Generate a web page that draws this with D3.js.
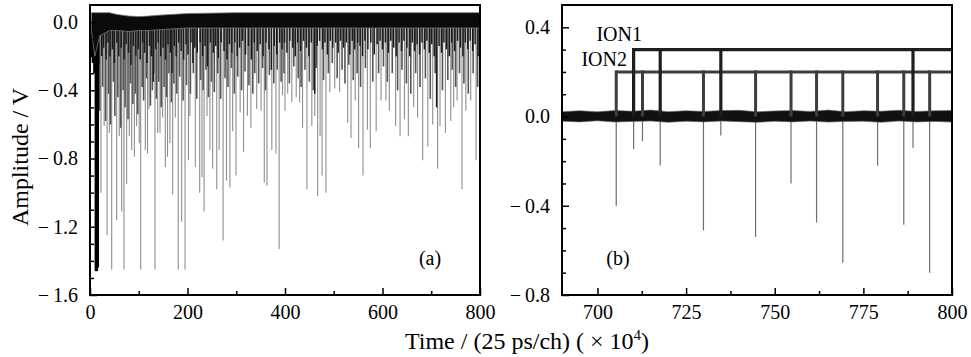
<!DOCTYPE html>
<html>
<head>
<meta charset="utf-8">
<script src="https://cdn.jsdelivr.net/npm/d3@7"></script>
<style>
  body { margin: 0; background: #fff; }
  svg { display: block; font-family: "Liberation Serif", "Times New Roman", serif; }
</style>
</head>
<body>
<svg id="chart" width="971" height="357"></svg>
<script>
// ---- panel (a) : full record ----
// deep spikes (light grey)
const deepT = [22.6, 29, 35, 39.7, 44.5, 54.7, 60, 65, 69.7, 75.2, 80.7, 85.5, 91, 95.5, 101, 104, 113.5, 118, 121,
  133.3, 138.8, 143.6, 149, 154.5, 159, 164, 169.6, 175, 181, 188, 195, 202, 205, 216, 225, 229.7, 234, 240, 246,
  251.6, 260, 265, 273, 280, 287, 292.6, 299.5, 308, 315, 323, 330, 342, 351, 357.5, 363, 373, 381.5, 388,
  395, 400, 405.5, 414, 423, 430, 436, 445, 455, 461, 467, 472, 476, 484, 492, 502, 512, 528.6, 535.4, 544,
  551, 560, 569, 575, 587, 597, 607, 614, 627, 636, 645, 653, 664, 672, 682.4, 693, 703, 713, 718, 729,
  740, 746, 753, 763, 771, 781, 792, 799];
const deepA = [-1.0, -0.61, -1.25, -0.65, -1.45, -1.16, -0.67, -1.11, -1.45, -0.95, -0.67, -0.75, -0.79, -0.61, -0.71, -1.45, -0.75, -0.77, -0.51,
  -1.45, -0.65, -0.65, -0.56, -0.85, -0.79, -0.71, -1.01, -0.56, -1.45, -1.17, -1.45, -0.81, -0.55, -0.85, -1.0, -0.91, -1.11, -0.55, -0.75,
  -0.86, -0.98, -0.75, -1.28, -0.93, -0.97, -0.64, -0.9, -0.53, -0.76, -0.55, -0.62, -0.51, -0.52, -0.94, -0.96, -0.75, -0.77, -1.33,
  -0.43, -0.52, -0.42, -0.47, -0.44, -0.47, -0.62, -0.98, -0.61, -0.55, -1.02, -0.67, -0.9, -1.0, -0.41, -0.39, -0.41, -0.59, -0.68, -0.46,
  -0.74, -0.9, -0.63, -0.74, -0.64, -0.46, -0.46, -0.52, -0.61, -0.67, -0.57, -0.67, -0.5, -0.56, -0.81, -0.73, -0.6, -0.86, -0.61, -0.65,
  -0.58, -0.5, -0.46, -0.98, -0.52, -0.46, -0.81, -0.61];

// medium spikes (mid grey)
const midT = [20, 26, 32, 38, 42, 48, 51, 57, 63, 68, 72, 78, 83, 88, 93, 98,
  107, 110, 116, 124, 128, 131, 136, 141, 146, 152, 157, 162, 167, 172, 178, 184, 191, 198,
  206, 212, 219, 227, 232, 238, 243, 249, 255, 262, 268, 277, 283, 290, 296, 303, 311, 318, 326, 334, 338, 346, 354, 360, 368, 377, 384, 392,
  398, 409, 418, 427, 433, 441, 450, 458, 464, 479, 489, 497, 507, 517, 523, 531, 540, 548, 555, 565, 580, 592, 602,
  610, 620, 631, 640, 649, 658, 668, 677, 688, 698, 708, 723, 734, 743, 750, 758, 767, 776, 786, 795];
const midA = [-0.52, -0.38, -0.58, -0.42, -0.6, -0.35, -0.55, -0.44, -0.62, -0.4, -0.5, -0.57, -0.36, -0.48, -0.42, -0.54,
  -0.38, -0.46, -0.33, -0.49, -0.4, -0.3, -0.45, -0.35, -0.5, -0.38, -0.44, -0.3, -0.47, -0.36, -0.42, -0.32, -0.46, -0.37,
  -0.42, -0.3, -0.45, -0.34, -0.4, -0.28, -0.44, -0.35, -0.41, -0.3, -0.45, -0.33, -0.38, -0.27, -0.42, -0.32, -0.4, -0.29, -0.37, -0.42, -0.3, -0.36, -0.27, -0.4, -0.31, -0.36, -0.28, -0.35,
  -0.3, -0.36, -0.26, -0.33, -0.38, -0.28, -0.35, -0.4, -0.27, -0.34, -0.3, -0.24, -0.33, -0.28, -0.36, -0.25, -0.34, -0.3, -0.38, -0.27, -0.35, -0.3, -0.26,
  -0.35, -0.3, -0.4, -0.28, -0.36, -0.42, -0.3, -0.38, -0.33, -0.45, -0.3, -0.4, -0.34, -0.28, -0.38, -0.3, -0.36, -0.42, -0.3, -0.38];

// short spikes (near black)
const shortT = [8, 11, 18, 24, 28, 33, 37, 41, 46, 50, 55, 59, 64, 70, 74, 79, 84, 89, 94, 99, 103, 108, 112, 117, 122, 126, 130,
  135, 140, 145, 150, 155, 160, 165, 168, 173, 177, 182, 187, 192, 197, 201, 207, 211, 215, 220, 226, 231, 236, 241, 247, 253,
  258, 263, 269, 275, 281, 286, 291, 297, 302, 307, 313, 319, 325, 331, 337, 343, 349, 355, 361, 367, 372, 378, 383, 389, 394,
  399, 404, 410, 416, 421, 426, 432, 438, 444, 449, 454, 461, 466, 471, 477, 482, 487, 493, 498, 504, 509, 514, 520, 526, 533,
  538, 543, 549, 554, 559, 564, 570, 576, 583, 589, 595, 600, 606, 612, 617, 623, 628, 634, 639, 644, 650, 656, 661, 666, 671,
  676, 681, 686, 691, 696, 701, 706, 711, 716, 721, 726, 731, 737, 742, 748, 754, 760, 765, 770, 775, 780, 785, 790, 796];
const shortA = [-0.22, -0.3, -0.25, -0.2, -0.15, -0.22, -0.12, -0.2, -0.16, -0.24, -0.12, -0.2, -0.15, -0.22, -0.13, -0.18, -0.25, -0.14, -0.2, -0.16, -0.22, -0.12, -0.18, -0.24, -0.14, -0.2, -0.35,
  -0.16, -0.12, -0.2, -0.15, -0.22, -0.13, -0.18, -0.3, -0.14, -0.2, -0.12, -0.17, -0.22, -0.13, -0.19, -0.12, -0.24, -0.15, -0.18, -0.12, -0.2, -0.14, -0.26, -0.12, -0.18,
  -0.14, -0.21, -0.12, -0.17, -0.22, -0.13, -0.18, -0.12, -0.2, -0.15, -0.11, -0.19, -0.14, -0.22, -0.12, -0.17, -0.13, -0.2, -0.12, -0.16, -0.28, -0.14, -0.19, -0.12, -0.16,
  -0.12, -0.18, -0.11, -0.15, -0.2, -0.12, -0.17, -0.11, -0.15, -0.2, -0.12, -0.42, -0.14, -0.11, -0.16, -0.12, -0.19, -0.11, -0.15, -0.12, -0.18, -0.11, -0.15, -0.12, -0.19,
  -0.11, -0.16, -0.12, -0.14, -0.2, -0.11, -0.16, -0.12, -0.19, -0.13, -0.11, -0.16, -0.12, -0.18, -0.11, -0.15, -0.2, -0.12, -0.17, -0.11, -0.15, -0.2, -0.12, -0.17, -0.13,
  -0.19, -0.12, -0.16, -0.11, -0.18, -0.13, -0.2, -0.5, -0.14, -0.18, -0.12, -0.16, -0.2, -0.12, -0.17, -0.11, -0.15, -0.2, -0.12, -0.16, -0.11, -0.17, -0.13, -0.2];

// saturated start of the record (black)
const startT = [4, 6, 9, 12, 14, 16];
const startA = [-0.2, -0.24, -0.3, -1.46, -1.46, -1.44];

// baseline band of panel (a)
const bandT = [3, 10, 20, 40, 55, 80, 100, 120, 140, 200, 300, 400, 500, 600, 700, 800];
const bandHi = [0.055, 0.055, 0.055, 0.055, 0.045, 0.035, 0.032, 0.035, 0.04, 0.05, 0.055, 0.055, 0.055, 0.055, 0.055, 0.055];
const bandLo = [-0.05, -0.2, -0.08, -0.05, -0.05, -0.055, -0.05, -0.05, -0.045, -0.035, -0.035, -0.035, -0.035, -0.035, -0.035, -0.035];

// ---- panel (b) : zoom 690-800 ----
const peakT = [705.3, 710.2, 712.7, 717.7, 729.9, 734.8, 744.6, 754.6, 761.8, 769.2, 779.0, 786.4, 789.0, 793.7];
const peakA = [-0.40, -0.145, -0.11, -0.22, -0.51, -0.085, -0.54, -0.30, -0.475, -0.655, -0.22, -0.485, -0.14, -0.70];
const noiseT = [690, 695, 700, 705, 710, 715, 720, 725, 730, 735, 740, 745, 750, 755, 760, 765, 770, 775, 780, 785, 790, 795, 800];
const noiseHi = [0.022, 0.026, 0.021, 0.027, 0.024, 0.029, 0.022, 0.026, 0.023, 0.027, 0.028, 0.021, 0.025, 0.027, 0.023, 0.029, 0.022, 0.026, 0.024, 0.028, 0.023, 0.026, 0.027];
const noiseLo = [-0.021, -0.024, -0.019, -0.025, -0.022, -0.02, -0.026, -0.021, -0.024, -0.02, -0.023, -0.026, -0.021, -0.024, -0.02, -0.025, -0.022, -0.021, -0.026, -0.02, -0.024, -0.022, -0.025];
const ion1T = [710.2, 717.7, 734.8, 789.0];
const ion2T = [705.3, 712.7, 729.9, 744.6, 754.6, 761.8, 769.2, 779.0, 786.4, 793.7];
const ion1Level = 0.3, ion2Level = 0.2;

const leftXTicks = [0, 200, 400, 600, 800];
const leftYTicks = [-1.6, -1.2, -0.8, -0.4, 0.0];
const rightXTicks = [700, 725, 750, 775, 800];
const rightYTicks = [-0.8, -0.4, 0.0, 0.4];

const svg = d3.select("#chart");
const plotTop = 5, plotBottom = 295;

const xa = d3.scaleLinear().domain([0, 800]).range([90, 480]);
const ya = d3.scaleLinear().domain([-1.6, 0.1]).range([plotBottom, plotTop]);
const xb = d3.scaleLinear().domain([690, 800]).range([562, 952]);
const yb = d3.scaleLinear().domain([-0.8, 0.5]).range([plotBottom, plotTop]);

const fmt = d => d < 0 ? "\u2212\u2009" + d3.format(".1f")(-d) : d3.format(".1f")(d);

const defs = svg.append("defs");
defs.append("clipPath").attr("id", "clipA").append("rect")
  .attr("x", 90).attr("y", plotTop).attr("width", 390).attr("height", plotBottom - plotTop);
defs.append("clipPath").attr("id", "clipB").append("rect")
  .attr("x", 562).attr("y", plotTop).attr("width", 390).attr("height", plotBottom - plotTop);

// draw spikes from zero down to amplitude
function spikes(g, x, y, ts, as, color, w) {
  g.append("g").selectAll("line")
    .data(ts.map((t, i) => [t, as[i]]))
    .enter().append("line")
    .attr("x1", d => x(d[0])).attr("x2", d => x(d[0]))
    .attr("y1", y(0)).attr("y2", d => y(d[1]))
    .attr("stroke", color).attr("stroke-width", w);
}

// panel (a)
const pa = svg.append("g").attr("clip-path", "url(#clipA)");
spikes(pa, xa, ya, deepT, deepA, "#8e8e8e", 1.1);
spikes(pa, xa, ya, midT, midA, "#555", 1.6);
spikes(pa, xa, ya, shortT, shortA, "#1a1a1a", 1.5);
spikes(pa, xa, ya, startT, startA, "#000", 2.5);
pa.append("path")
  .datum(bandT.map((t, i) => [t, bandHi[i], bandLo[i]]))
  .attr("d", d3.area().x(d => xa(d[0])).y0(d => ya(d[2])).y1(d => ya(d[1])))
  .attr("fill", "#0a0a0a").attr("stroke", "#777").attr("stroke-width", 0.8);

// panel (b)
const pb = svg.append("g").attr("clip-path", "url(#clipB)");
spikes(pb, xb, yb, peakT, peakA, "#6e6e6e", 1.2);
pb.append("path")
  .datum(noiseT.map((t, i) => [t, noiseHi[i], noiseLo[i]]))
  .attr("d", d3.area().x(d => xb(d[0])).y0(d => yb(d[2])).y1(d => yb(d[1])))
  .attr("fill", "#111").attr("stroke", "#666").attr("stroke-width", 0.6);

function ionMarks(ts, level, color, w) {
  pb.append("line")
    .attr("x1", xb(ts[0])).attr("x2", xb(800))
    .attr("y1", yb(level)).attr("y2", yb(level))
    .attr("stroke", color).attr("stroke-width", w);
  pb.append("g").selectAll("line").data(ts).enter().append("line")
    .attr("x1", d => xb(d)).attr("x2", d => xb(d))
    .attr("y1", yb(level) - w / 2).attr("y2", yb(0))
    .attr("stroke", color).attr("stroke-width", w);
}
ionMarks(ion2T, ion2Level, "#3d3d3d", 3);
ionMarks(ion1T, ion1Level, "#1e1e1e", 3.2);

svg.append("text").attr("x", 642).attr("y", 41).attr("text-anchor", "end")
  .attr("font-size", 20).text("ION1");
svg.append("text").attr("x", 627).attr("y", 66).attr("text-anchor", "end")
  .attr("font-size", 20).text("ION2");

// axes
function axes(x, y, xMajor, xMinor, yMajor, yMinor, x0) {
  const gx = svg.append("g").attr("transform", `translate(0,${plotBottom})`)
    .call(d3.axisBottom(x).tickValues(xMajor).tickSize(-7).tickPadding(10).tickFormat(d3.format("d")));
  svg.append("g").attr("transform", `translate(0,${plotBottom})`)
    .call(d3.axisBottom(x).tickValues(xMinor).tickSize(-4).tickFormat(""));
  const gy = svg.append("g").attr("transform", `translate(${x0},0)`)
    .call(d3.axisLeft(y).tickValues(yMajor).tickSize(-7).tickPadding(12).tickFormat(fmt));
  svg.append("g").attr("transform", `translate(${x0},0)`)
    .call(d3.axisLeft(y).tickValues(yMinor).tickSize(-4).tickFormat(""));
  svg.selectAll(".domain").remove();
  svg.selectAll(".tick line").attr("stroke-width", 1.5);
  gx.selectAll("text").attr("font-size", 20).attr("font-family", "Liberation Serif, serif");
  gy.selectAll("text").attr("font-size", 20).attr("font-family", "Liberation Serif, serif");
}
axes(xa, ya, leftXTicks, [100, 300, 500, 700],
  leftYTicks, [-1.5, -1.4, -1.3, -1.1, -1.0, -0.9, -0.7, -0.6, -0.5, -0.3, -0.2, -0.1], 90);
axes(xb, yb, rightXTicks, [712.5, 737.5, 762.5, 787.5],
  rightYTicks, [-0.7, -0.6, -0.5, -0.3, -0.2, -0.1, 0.1, 0.2, 0.3], 562);

// frames
svg.append("rect").attr("x", 90).attr("y", plotTop).attr("width", 390).attr("height", plotBottom - plotTop)
  .attr("fill", "none").attr("stroke", "#000").attr("stroke-width", 2);
svg.append("rect").attr("x", 562).attr("y", plotTop).attr("width", 390).attr("height", plotBottom - plotTop)
  .attr("fill", "none").attr("stroke", "#000").attr("stroke-width", 2);

// labels
svg.append("text").attr("x", 430).attr("y", 265).attr("text-anchor", "middle")
  .attr("font-size", 20).text("(a)");
svg.append("text").attr("x", 618).attr("y", 265).attr("text-anchor", "middle")
  .attr("font-size", 20).text("(b)");

svg.append("text").attr("transform", "translate(28,157) rotate(-90)")
  .attr("text-anchor", "middle").attr("font-size", 24).text("Amplitude / V");

const xl = svg.append("text").attr("x", 527).attr("y", 349).attr("text-anchor", "middle")
  .attr("font-size", 24);
xl.append("tspan").text("Time / (25 ps/ch) ( \u00d7 10");
xl.append("tspan").attr("font-size", 15).attr("dy", -9).text("4");
xl.append("tspan").attr("dy", 9).text(")");
</script>
</body>
</html>
